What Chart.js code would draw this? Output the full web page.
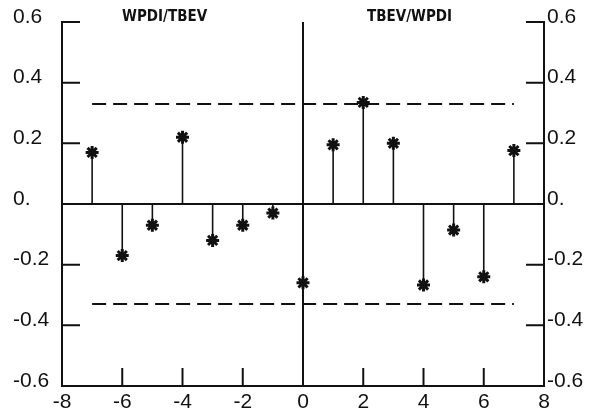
<!DOCTYPE html>
<html>
<head>
<meta charset="utf-8">
<script src="https://cdn.jsdelivr.net/npm/chart.js@4.4.1/dist/chart.umd.min.js"></script>
<style>
  html, body { margin: 0; padding: 0; background: #fff; }
  #wrap { width: 604px; height: 415px; }
</style>
</head>
<body>
<div id="wrap"><canvas id="ccf_chart"></canvas></div>
<script>
// lags and cross-correlation values
const lags = [-7, -6, -5, -4, -3, -2, -1, 0, 1, 2, 3, 4, 5, 6, 7];
const ccf = [0.17, -0.17, -0.07, 0.22, -0.12, -0.07, -0.03, -0.26, 0.195, 0.335, 0.2, -0.267, -0.086, -0.24, 0.176];

// significance band
const bandLags = [-7, 7];
const bandUpper = 0.33;
const bandLower = -0.33;

// axis ticks
const xTicks = [-8, -6, -4, -2, 0, 2, 4, 6, 8];
const yTicks = [-0.6, -0.4, -0.2, 0, 0.2, 0.4, 0.6];
const yTickLabels = ["-0.6", "-0.4", "-0.2", "0.", "0.2", "0.4", "0.6"];

// panel titles
const leftTitle = "WPDI/TBEV";
const rightTitle = "TBEV/WPDI";

const canvas = document.getElementById("ccf_chart");
canvas.width = 604;
canvas.height = 415;

const ink = "#111";
const tickFont = { family: "'Liberation Sans', Arial, sans-serif", size: 21 };

function yLabel(value) {
    const i = yTicks.findIndex(t => Math.abs(t - value) < 1e-6);
    return i >= 0 ? yTickLabels[i] : "";
}

// stems, zero line, the lag-0 line, inward ticks and titles
const stemPlugin = {
    id: "stems",
    beforeDatasetsDraw(chart) {
        const { ctx, chartArea, scales } = chart;
        const x = scales.x, y = scales.y;
        const y0 = y.getPixelForValue(0);
        ctx.save();
        ctx.strokeStyle = ink;
        ctx.lineCap = "butt";

        // zero line
        ctx.lineWidth = 2;
        ctx.beginPath();
        ctx.moveTo(chartArea.left, y0);
        ctx.lineTo(chartArea.right, y0);
        ctx.stroke();

        // vertical line at lag 0
        const x0 = x.getPixelForValue(0);
        ctx.beginPath();
        ctx.moveTo(x0, chartArea.top);
        ctx.lineTo(x0, chartArea.bottom);
        ctx.stroke();

        // stems
        ctx.lineWidth = 1.6;
        lags.forEach((lag, i) => {
            const px = x.getPixelForValue(lag);
            ctx.beginPath();
            ctx.moveTo(px, y0);
            ctx.lineTo(px, y.getPixelForValue(ccf[i]));
            ctx.stroke();
        });

        // inward ticks
        const len = 18;
        ctx.lineWidth = 2;
        yTicks.forEach(t => {
            if (t === 0) return;
            const py = y.getPixelForValue(t);
            ctx.beginPath();
            ctx.moveTo(chartArea.left, py);
            ctx.lineTo(chartArea.left + len, py);
            ctx.moveTo(chartArea.right, py);
            ctx.lineTo(chartArea.right - len, py);
            ctx.stroke();
        });
        xTicks.forEach(t => {
            if (t === 0 || t === xTicks[0] || t === xTicks[xTicks.length - 1]) return;
            const px = x.getPixelForValue(t);
            ctx.beginPath();
            ctx.moveTo(px, chartArea.bottom);
            ctx.lineTo(px, chartArea.bottom - len);
            ctx.stroke();
        });

        // titles
        ctx.fillStyle = ink;
        ctx.font = "bold 15px 'DejaVu Sans Condensed', 'DejaVu Sans', sans-serif";
        ctx.textBaseline = "alphabetic";
        ctx.textAlign = "left";
        ctx.fillText(leftTitle, 122, 21);
        ctx.fillText(rightTitle, 367, 21);
        ctx.restore();
    }
};

const chart = new Chart(canvas.getContext("2d"), {
    type: "scatter",
    data: {
        datasets: [
            {
                label: "ccf",
                data: lags.map((lag, i) => ({ x: lag, y: ccf[i] })),
                pointStyle: "star",
                pointRadius: 6.5,
                borderColor: ink,
                backgroundColor: ink,
                borderWidth: 3
            },
            {
                label: "upper",
                type: "line",
                data: bandLags.map(l => ({ x: l, y: bandUpper })),
                borderColor: ink,
                borderWidth: 2,
                borderDash: [14, 7],
                pointRadius: 0
            },
            {
                label: "lower",
                type: "line",
                data: bandLags.map(l => ({ x: l, y: bandLower })),
                borderColor: ink,
                borderWidth: 2,
                borderDash: [14, 7],
                pointRadius: 0
            }
        ]
    },
    options: {
        responsive: false,
        maintainAspectRatio: false,
        animation: false,
        layout: { padding: { left: 13, top: 22, right: 0, bottom: 0 } },
        plugins: {
            legend: { display: false },
            tooltip: { enabled: false }
        },
        scales: {
            x: {
                type: "linear",
                min: -8,
                max: 8,
                position: "bottom",
                afterBuildTicks: s => { s.ticks = xTicks.map(v => ({ value: v })); },
                afterFit: s => { s.height = 29; },
                grid: { display: false, drawTicks: false },
                border: { display: true, color: ink, width: 2 },
                ticks: { color: ink, font: tickFont, padding: 4, maxRotation: 0 }
            },
            y: {
                min: -0.6,
                max: 0.6,
                position: "left",
                afterBuildTicks: s => { s.ticks = yTicks.map(v => ({ value: v })); },
                afterFit: s => { s.width = 49; },
                grid: { display: false, drawTicks: false },
                border: { display: true, color: ink, width: 2 },
                ticks: { color: ink, font: tickFont, crossAlign: "far", labelOffset: -5, callback: yLabel }
            },
            y2: {
                min: -0.6,
                max: 0.6,
                position: "right",
                afterBuildTicks: s => { s.ticks = yTicks.map(v => ({ value: v })); },
                afterFit: s => { s.width = 60; },
                grid: { display: false, drawTicks: false },
                border: { display: true, color: ink, width: 2 },
                ticks: { color: ink, font: tickFont, padding: 3, labelOffset: -5, callback: yLabel }
            }
        }
    },
    plugins: [stemPlugin]
});
</script>
</body>
</html>
